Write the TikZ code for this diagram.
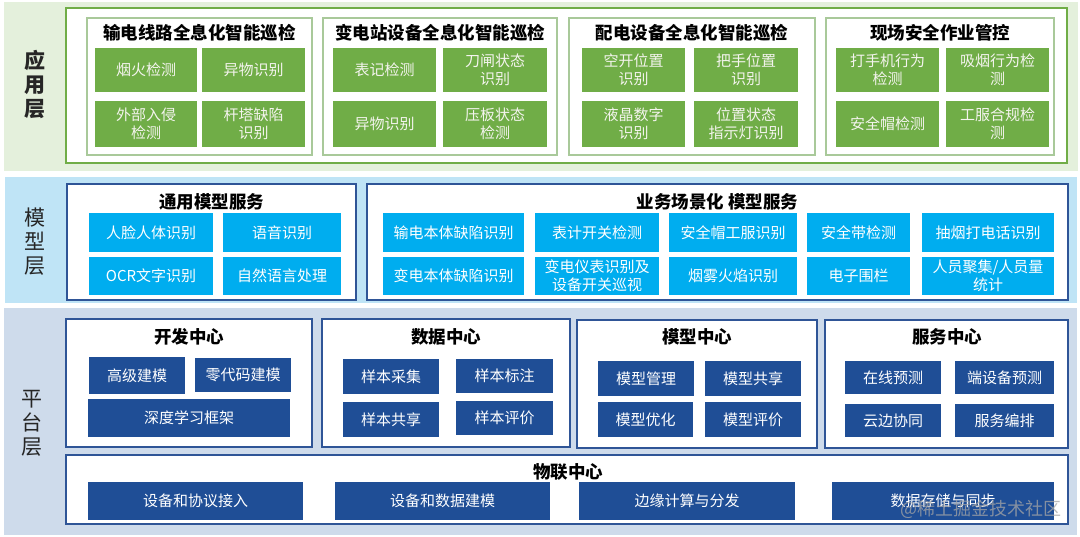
\documentclass[tikz,border=0pt]{standalone}
\usepackage{fontspec}
\setmainfont{Noto Sans CJK SC}
\definecolor{appbg}{HTML}{E4F0DC}
\definecolor{appgreen}{HTML}{70AD47}
\definecolor{appgrp}{HTML}{A9C99A}
\definecolor{modbg}{HTML}{BFE4F6}
\definecolor{modbox}{HTML}{00ADEF}
\definecolor{navy}{HTML}{2F5597}
\definecolor{platbg}{HTML}{CEDBEB}
\definecolor{platbox}{HTML}{1F4E96}
\definecolor{offwhite}{HTML}{F4F4EE}
\tikzset{
  band/.style={draw=none, inner sep=0pt, outer sep=0pt},
  grpapp/.style={draw=appgrp, line width=1.3pt, fill=white, inner sep=0pt, outer sep=0pt},
  grpblue/.style={draw=navy, line width=2.2pt, fill=white, inner sep=0pt, outer sep=0pt},
  greenbox/.style={fill=appgreen, text=offwhite, inner sep=0pt, outer sep=0pt, align=center, font=\fontsize{15}{18}\selectfont},
  cyanbox/.style={fill=modbox, text=white, inner sep=0pt, outer sep=0pt, align=center, font=\fontsize{15}{18}\selectfont},
  navybox/.style={fill=platbox, text=white, inner sep=0pt, outer sep=0pt, align=center, font=\fontsize{15}{18}\selectfont},
  grptitle/.style={font=\bfseries\fontsize{17.5}{20}\selectfont, text=black, inner sep=0pt},
  layerlbl/.style={font=\fontsize{21}{24}\selectfont, text=black!85, align=center, inner sep=0pt},
}
\newcommand\bx[7]{%
  \pgfmathsetmacro\bxw{#5-#3}\pgfmathsetmacro\bxh{#6-#4}%
  \node[#1, minimum width=\bxw pt, minimum height=\bxh pt] (#2) at ({(#3+#5)/2},{(#4+#6)/2}) {#7};}
\begin{document}
\begin{tikzpicture}[x=1pt,y=-1pt]
\useasboundingbox (0,0) rectangle (1080,537);
\fill[white] (0,0) rectangle (1080,537);
% ---------- bands ----------
\bx{band, fill=appbg}{bandApp}{4}{2}{1078}{171}{}
\bx{band, fill=modbg}{bandMod}{5}{177}{1077}{303}{}
\bx{band, fill=platbg}{bandPlat}{4}{308}{1077}{535}{}
% ---------- layer labels ----------
\node[layerlbl, font=\bfseries\fontsize{21}{24}\selectfont] (lApp) at (35,85) {应\\用\\层};
\node[layerlbl] (lMod) at (35,242) {模\\型\\层};
\node[layerlbl] (lPlat) at (32,423) {平\\台\\层};
% ---------- application layer ----------
\bx{draw=appgreen, line width=2.5pt, fill=white, inner sep=0pt, outer sep=0pt}{appOuter}{66}{8}{1067}{163}{}
\bx{grpapp}{g1}{87}{18}{312}{155}{}
\bx{grpapp}{g2}{323}{18}{557}{155}{}
\bx{grpapp}{g3}{569}{18}{815}{155}{}
\bx{grpapp}{g4}{826}{18}{1054}{155}{}
\node[grptitle] (t1) at (199.5,33) {输电线路全息化智能巡检};
\node[grptitle] (t2) at (440,33) {变电站设备全息化智能巡检};
\node[grptitle] (t3) at (692,33) {配电设备全息化智能巡检};
\node[grptitle] (t4) at (940,33) {现场安全作业管控};
% G1
\bx{greenbox}{a11}{95}{48}{197}{92}{烟火检测}
\bx{greenbox}{a12}{202}{48}{305}{92}{异物识别}
\bx{greenbox}{a13}{95}{101}{197}{147}{外部入侵\\检测}
\bx{greenbox}{a14}{202}{101}{305}{147}{杆塔缺陷\\识别}
% G2
\bx{greenbox}{a21}{333}{48}{436}{92}{表记检测}
\bx{greenbox}{a22}{443}{48}{547}{92}{刀闸状态\\识别}
\bx{greenbox}{a23}{333}{101}{436}{147}{异物识别}
\bx{greenbox}{a24}{443}{101}{547}{147}{压板状态\\检测}
% G3
\bx{greenbox}{a31}{582}{48}{685}{92}{空开位置\\识别}
\bx{greenbox}{a32}{694}{48}{798}{92}{把手位置\\识别}
\bx{greenbox}{a33}{582}{101}{685}{147}{液晶数字\\识别}
\bx{greenbox}{a34}{694}{101}{798}{147}{位置状态\\指示灯识别}
% G4
\bx{greenbox}{a41}{836}{48}{939}{92}{打手机行为\\检测}
\bx{greenbox}{a42}{946}{48}{1049}{92}{吸烟行为检\\测}
\bx{greenbox}{a43}{836}{101}{939}{147}{安全帽检测}
\bx{greenbox}{a44}{946}{101}{1049}{147}{工服合规检\\测}
% ---------- model layer ----------
\bx{grpblue}{mg1}{67}{184}{356}{300}{}
\bx{grpblue}{mg2}{367}{184}{1068}{300}{}
\node[grptitle] (mt1) at (211.5,202) {通用模型服务};
\node[grptitle] (mt2) at (717.5,202) {业务场景化 模型服务};
\bx{cyanbox}{m11}{89}{213}{213}{252}{人脸人体识别}
\bx{cyanbox}{m12}{223}{213}{341}{252}{语音识别}
\bx{cyanbox}{m13}{89}{257}{213}{295}{OCR文字识别}
\bx{cyanbox}{m14}{223}{257}{341}{295}{自然语言处理}
\bx{cyanbox}{m21}{383}{213}{524}{252}{输电本体缺陷识别}
\bx{cyanbox}{m22}{535}{213}{659}{252}{表计开关检测}
\bx{cyanbox}{m23}{669}{213}{797}{252}{安全帽工服识别}
\bx{cyanbox}{m24}{807}{213}{910}{252}{安全带检测}
\bx{cyanbox}{m25}{922}{213}{1054}{252}{抽烟打电话识别}
\bx{cyanbox}{m26}{383}{257}{524}{295}{变电本体缺陷识别}
\bx{cyanbox}{m27}{535}{257}{659}{295}{变电仪表识别及\\设备开关巡视}
\bx{cyanbox}{m28}{669}{257}{797}{295}{烟雾火焰识别}
\bx{cyanbox}{m29}{807}{257}{910}{295}{电子围栏}
\bx{cyanbox}{m2a}{922}{257}{1054}{295}{人员聚集/人员量\\统计}
% ---------- platform layer ----------
\bx{grpblue}{pg1}{66}{319}{312}{447}{}
\bx{grpblue}{pg2}{322}{319}{570}{447}{}
\bx{grpblue}{pg3}{577}{320}{817}{448}{}
\bx{grpblue}{pg4}{825}{320}{1068}{448}{}
\bx{grpblue}{pg5}{66}{455}{1068}{524}{}
\node[grptitle] (pt1) at (189,337) {开发中心};
\node[grptitle] (pt2) at (446,337) {数据中心};
\node[grptitle] (pt3) at (697,337) {模型中心};
\node[grptitle] (pt4) at (947,337) {服务中心};
\node[grptitle] (pt5) at (568,472) {物联中心};
\bx{navybox}{p11}{89}{357}{185}{394}{高级建模}
\bx{navybox}{p12}{195}{358}{291}{392}{零代码建模}
\bx{navybox}{p13}{88}{399}{290}{437}{深度学习框架}
\bx{navybox}{p21}{343}{359}{439}{394}{样本采集}
\bx{navybox}{p22}{456}{359}{553}{393}{样本标注}
\bx{navybox}{p23}{343}{402}{439}{437}{样本共享}
\bx{navybox}{p24}{456}{401}{553}{435}{样本评价}
\bx{navybox}{p31}{598}{361}{694}{396}{模型管理}
\bx{navybox}{p32}{705}{361}{801}{396}{模型共享}
\bx{navybox}{p33}{598}{402}{693}{437}{模型优化}
\bx{navybox}{p34}{705}{402}{801}{437}{模型评价}
\bx{navybox}{p41}{845}{361}{941}{394}{在线预测}
\bx{navybox}{p42}{955}{361}{1054}{394}{端设备预测}
\bx{navybox}{p43}{845}{404}{941}{437}{云边协同}
\bx{navybox}{p44}{955}{404}{1054}{437}{服务编排}
\bx{navybox}{p51}{88}{482}{303}{520}{设备和协议接入}
\bx{navybox}{p52}{335}{482}{550}{520}{设备和数据建模}
\bx{navybox}{p53}{579}{482}{795}{520}{边缘计算与分发}
\bx{navybox}{p54}{832}{482}{1054}{520}{数据存储与同步}
% watermark
\node[font=\fontsize{18}{20}\selectfont, text=gray!70, opacity=0.75, inner sep=0pt] (wm) at (981,509) {@稀土掘金技术社区};
\end{tikzpicture}
\end{document}
